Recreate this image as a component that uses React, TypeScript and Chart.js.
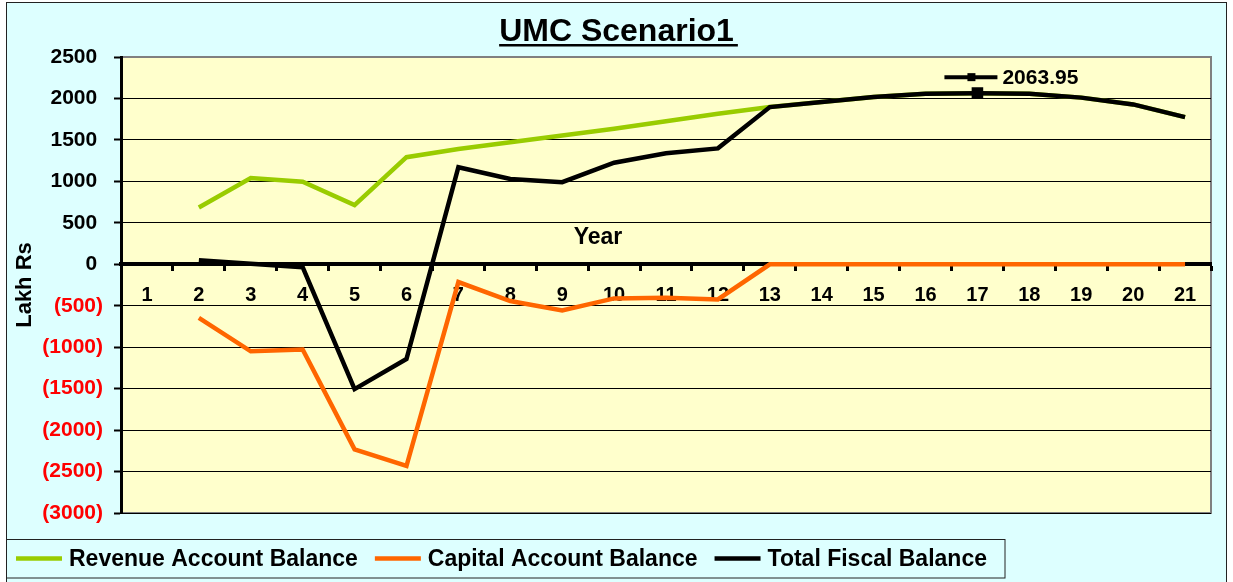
import React, { useEffect, useRef } from "react";
import { Chart, registerables } from "chart.js";

Chart.register(...registerables);

// ---------- data ----------
const years = ["1", "2", "3", "4", "5", "6", "7", "8", "9", "10", "11", "12", "13", "14", "15", "16", "17", "18", "19", "20", "21"];
const revenueBalance = [null, 685, 1041, 996, 714, 1292, 1390, 1472, 1553, 1634, 1726, 1816, 1896, 1957, 2017, 2058, 2063.95, 2058, 2010, 1928, 1775];
const capitalBalance = [null, -646, -1050, -1029, -2232, -2433, -214, -444, -557, -412, -404, -424, 0, 0, 0, 0, 0, 0, 0, 0, 0];
const totalBalance = [null, 50, 5, -35, -1506, -1143, 1170, 1029, 990, 1225, 1340, 1398, 1896, 1957, 2017, 2058, 2063.95, 2058, 2010, 1928, 1775];
const seriesNames = ["Revenue Account Balance", "Capital Account Balance", "Total Fiscal Balance"];
const highlightIndex = 16;
const highlightLabel = "2063.95";
const chartTitle = "UMC Scenario1";
const xTitle = "Year";
const yTitle = "Lakh Rs";
const yMin = -3000;
const yMax = 2500;
const yStep = 500;

// ---------- style ----------
const FONT = "'Liberation Sans', Arial, sans-serif";
const OUTER_BG = "#DDFFFF";
const PLOT_BG = "#FFFFCC";
const GREEN = "#99CC00";
const ORANGE = "#FF6600";
const BLACK = "#000000";

const decorPlugin = {
  id: "decor",
  beforeDraw(chart: any) {
    const { ctx, chartArea: a, width } = chart;
    ctx.save();
    ctx.fillStyle = "#ffffff";
    ctx.fillRect(0, 0, width, chart.height);
    ctx.fillStyle = OUTER_BG;
    ctx.fillRect(6, 2, 1221, 600);
    ctx.strokeStyle = "#222";
    ctx.lineWidth = 1;
    ctx.strokeRect(6.5, 2.5, 1220, 600);
    ctx.fillStyle = PLOT_BG;
    ctx.fillRect(a.left, a.top, a.right - a.left, a.bottom - a.top);
    ctx.strokeStyle = "#808080";
    ctx.lineWidth = 2;
    ctx.strokeRect(a.left, a.top, a.right - a.left, a.bottom - a.top);
    ctx.restore();
  },
  afterDraw(chart: any) {
    const { ctx, chartArea: a, width } = chart;
    ctx.save();
    // title
    ctx.fillStyle = BLACK;
    ctx.font = `bold 32px ${FONT}`;
    ctx.textAlign = "center";
    ctx.textBaseline = "alphabetic";
    const cx = width / 2;
    ctx.fillText(chartTitle, cx, 41);
    const tw = ctx.measureText(chartTitle).width;
    ctx.fillRect(cx - tw / 2, 44, tw + 4, 2.5);

    // x title "Year" above the zero axis
    const yScale = chart.scales.y;
    const zeroY = yScale.getPixelForValue(0);
    ctx.font = `bold 23px ${FONT}`;
    ctx.fillText(xTitle, (a.left + a.right) / 2 - 68, zeroY - 20);

    // data label with legend key
    const meta = chart.getDatasetMeta(2);
    const pt = meta.data[highlightIndex];
    if (pt) {
      const ly = pt.y - 16;
      ctx.strokeStyle = BLACK;
      ctx.lineWidth = 4;
      ctx.beginPath();
      ctx.moveTo(pt.x - 33, ly);
      ctx.lineTo(pt.x + 20, ly);
      ctx.stroke();
      ctx.fillRect(pt.x - 10, ly - 4, 8, 8);
      ctx.font = `bold 21px ${FONT}`;
      ctx.textAlign = "left";
      ctx.textBaseline = "middle";
      ctx.fillText(highlightLabel, pt.x + 25, ly + 1);
    }

    // legend
    ctx.fillStyle = OUTER_BG;
    ctx.fillRect(6, 539, 999, 39);
    ctx.strokeStyle = "#222";
    ctx.lineWidth = 1;
    ctx.strokeRect(6.5, 539.5, 998.5, 38.5);
    let x = 16;
    const ly = 558.5;
    ctx.font = `bold 23px ${FONT}`;
    ctx.textAlign = "left";
    ctx.textBaseline = "middle";
    chart.data.datasets.forEach((ds: any) => {
      ctx.strokeStyle = ds.borderColor;
      ctx.lineWidth = 4.5;
      ctx.beginPath();
      ctx.moveTo(x, ly);
      ctx.lineTo(x + 46, ly);
      ctx.stroke();
      ctx.fillStyle = BLACK;
      ctx.fillText(ds.label, x + 53, ly + 1);
      x = x + 53 + ctx.measureText(ds.label).width + 17;
    });
    ctx.restore();
  },
};

export default function App() {
  const ref = useRef<HTMLCanvasElement | null>(null);
  useEffect(() => {
    if (!ref.current) return;
    Chart.defaults.font.family = FONT;
    const chart = new Chart(ref.current, {
      type: "line",
      data: {
        labels: years,
        datasets: [
          {
            label: seriesNames[0],
            data: revenueBalance,
            borderColor: GREEN,
            backgroundColor: GREEN,
            borderWidth: 4.5,
            pointRadius: 0,
            tension: 0,
            order: 2,
          },
          {
            label: seriesNames[1],
            data: capitalBalance,
            borderColor: ORANGE,
            backgroundColor: ORANGE,
            borderWidth: 4.5,
            pointRadius: 0,
            tension: 0,
            order: 1,
          },
          {
            label: seriesNames[2],
            data: totalBalance,
            borderColor: BLACK,
            backgroundColor: BLACK,
            borderWidth: 4.5,
            pointStyle: "rect",
            pointRadius: (c: any) => (c.dataIndex === highlightIndex ? 5 : 0),
            tension: 0,
            order: 0,
          },
        ],
      },
      options: {
        animation: false,
        responsive: false,
        layout: { padding: { top: 57, bottom: 69, left: 0, right: 22 } },
        plugins: {
          legend: { display: false },
          title: { display: false },
          tooltip: { enabled: false },
        },
        scales: {
          x: {
            type: "category",
            position: { y: 0 } as any,
            offset: true,
            afterFit: (s: any) => {
              s.height = 0;
            },
            grid: {
              display: true,
              drawOnChartArea: false,
              drawTicks: true,
              tickLength: 5,
              tickWidth: 3,
              tickColor: BLACK,
              offset: true,
            },
            border: { display: true, color: BLACK, width: 4 },
            ticks: {
              color: BLACK,
              font: { size: 20, weight: "bold" },
              padding: 14,
              maxRotation: 0,
              autoSkip: false,
            },
          },
          y: {
            min: yMin,
            max: yMax,
            afterFit: (s: any) => {
              s.width = 121;
            },
            grid: {
              color: (c: any) => (c.tick && c.tick.value === yMax ? "#808080" : BLACK),
              lineWidth: 1,
              drawTicks: true,
              tickLength: 7,
              tickWidth: 2,
              tickColor: BLACK,
            },
            border: { display: true, color: BLACK, width: 3 },
            ticks: {
              stepSize: yStep,
              padding: 11,
              font: { size: 21, weight: "bold" },
              color: (c: any) => (c.tick && c.tick.value < 0 ? "#FF0000" : BLACK),
              callback: (v: any) => (v < 0 ? `(${-v})` : `${v} `),
            },
            title: {
              display: true,
              text: yTitle,
              color: BLACK,
              font: { size: 22, weight: "bold" },
              padding: { top: 12, bottom: 0 },
            },
          },
        },
      },
      plugins: [decorPlugin],
    } as any);
    return () => chart.destroy();
  }, []);
  return (
    <div style={{ position: "absolute", left: 0, top: 0, width: 1233, height: 582 }}>
      <canvas ref={ref} width={1233} height={582} style={{ display: "block" }} />
    </div>
  );
}
